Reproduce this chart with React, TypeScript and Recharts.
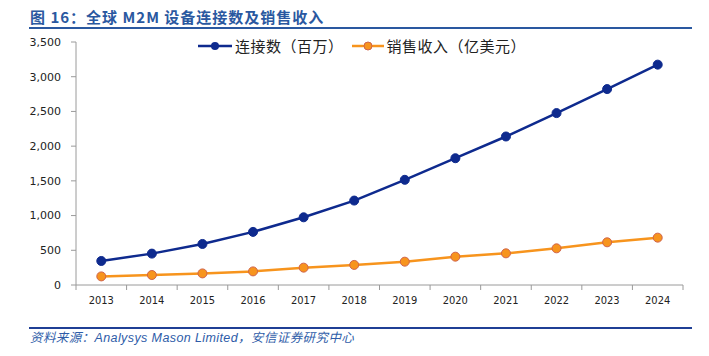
import React from 'react';
import { LineChart, Line, XAxis, YAxis } from 'recharts';

const years = [2013, 2014, 2015, 2016, 2017, 2018, 2019, 2020, 2021, 2022, 2023, 2024];
const connections = [346, 452, 591, 765, 975, 1216, 1515, 1826, 2139, 2476, 2822, 3174];
const revenue = [124, 144, 167, 196, 250, 289, 336, 408, 456, 528, 615, 682];
const yTicks = [0, 500, 1000, 1500, 2000, 2500, 3000, 3500];
const seriesNames = ['连接数（百万）', '销售收入（亿美元）'];
const title = '图 16：全球 M2M 设备连接数及销售收入';
const source = '资料来源：Analysys Mason Limited，安信证券研究中心';

const data = years.map((y, i) => ({ year: y, conn: connections[i], rev: revenue[i] }));
const boundaryTicks = [...years.map((y) => y - 0.5), years[years.length - 1] + 0.5];

const BLUE = '#0E2A8E';
const ORANGE = '#F7941D';
const AXIS = '#9A9A9A';
const BAND = 50.5;

const fmt = (v: number) => v.toLocaleString('en-US');

const XTick = (props: any) => {
  const { x, y, payload } = props;
  const label = payload.value + 0.5;
  if (label > years[years.length - 1]) return null;
  return (
    <text x={x + BAND / 2} y={y + 12} textAnchor="middle" fontSize={11} fill="#222" fontFamily="'DejaVu Sans Condensed', 'DejaVu Sans', sans-serif">
      {label}
    </text>
  );
};

const LegendBox = () => (
  <div style={{ position: 'absolute', left: 198, top: 36, display: 'flex', alignItems: 'center', fontFamily: "'Noto Sans CJK SC', sans-serif", fontSize: 15, lineHeight: '20px', color: '#222', whiteSpace: 'nowrap', letterSpacing: 0.5 }}>
    <svg width={34} height={12} style={{ marginRight: 3 }}>
      <line x1={0} y1={6} x2={34} y2={6} stroke={BLUE} strokeWidth={2.5} />
      <circle cx={17} cy={6} r={4} fill={BLUE} />
    </svg>
    <span style={{ marginRight: 8 }}>{seriesNames[0]}</span>
    <svg width={32} height={12} style={{ marginRight: 3 }}>
      <line x1={0} y1={6} x2={32} y2={6} stroke={ORANGE} strokeWidth={2.5} />
      <circle cx={16} cy={6} r={4} fill={ORANGE} stroke="#D0634A" strokeWidth={1} />
    </svg>
    <span>{seriesNames[1]}</span>
  </div>
);

export default function App() {
  return (
    <div style={{ position: 'absolute', left: 0, top: 0, width: 709, height: 356, background: '#fff', overflow: 'hidden' }}>
      <div style={{ position: 'absolute', left: 30, top: 7, fontSize: 15, fontWeight: 'bold', color: '#2A58A0', fontFamily: "'Noto Sans CJK SC', sans-serif", letterSpacing: 1, whiteSpace: 'nowrap', lineHeight: '20px' }}>
        {title}
      </div>
      <div style={{ position: 'absolute', left: 29, top: 27, width: 663, height: 2, background: '#2A58A0' }} />
      <div style={{ position: 'absolute', left: 0, top: 0 }}>
        <LineChart width={709} height={356} data={data} margin={{ top: 42, right: 26, left: 16, bottom: 42 }}>
          <XAxis
            dataKey="year"
            type="number"
            domain={[years[0] - 0.5, years[years.length - 1] + 0.5]}
            ticks={boundaryTicks}
            interval={0}
            tick={<XTick />}
            tickLine={{ stroke: AXIS }}
            axisLine={{ stroke: AXIS }}
            tickSize={5}
            height={29}
          />
          <YAxis
            domain={[0, 3500]}
            ticks={yTicks}
            interval={0}
            tickFormatter={fmt}
            width={60}
            tick={{ fontSize: 11, fill: '#222', fontFamily: "'DejaVu Sans', sans-serif" }}
            tickLine={{ stroke: AXIS }}
            axisLine={{ stroke: AXIS }}
            tickSize={5}
            tickMargin={10}
          />
          <Line
            dataKey="conn"
            name={seriesNames[0]}
            stroke={BLUE}
            strokeWidth={2.5}
            dot={{ r: 4.5, fill: BLUE, stroke: BLUE, strokeWidth: 1 }}
            isAnimationActive={false}
          />
          <Line
            dataKey="rev"
            name={seriesNames[1]}
            stroke={ORANGE}
            strokeWidth={2.5}
            dot={{ r: 4.5, fill: ORANGE, stroke: '#D0634A', strokeWidth: 1 }}
            isAnimationActive={false}
          />
        </LineChart>
      </div>
      <LegendBox />
      <div style={{ position: 'absolute', left: 29, top: 327, width: 663, height: 2, background: '#1F3F95' }} />
      <div style={{ position: 'absolute', left: 30, top: 329, fontSize: 12.5, fontStyle: 'italic', color: '#2E5CA8', fontFamily: "'Liberation Sans', 'Noto Sans CJK SC', sans-serif", whiteSpace: 'nowrap', lineHeight: '18px', letterSpacing: 0.4 }}>
        {source}
      </div>
    </div>
  );
}
